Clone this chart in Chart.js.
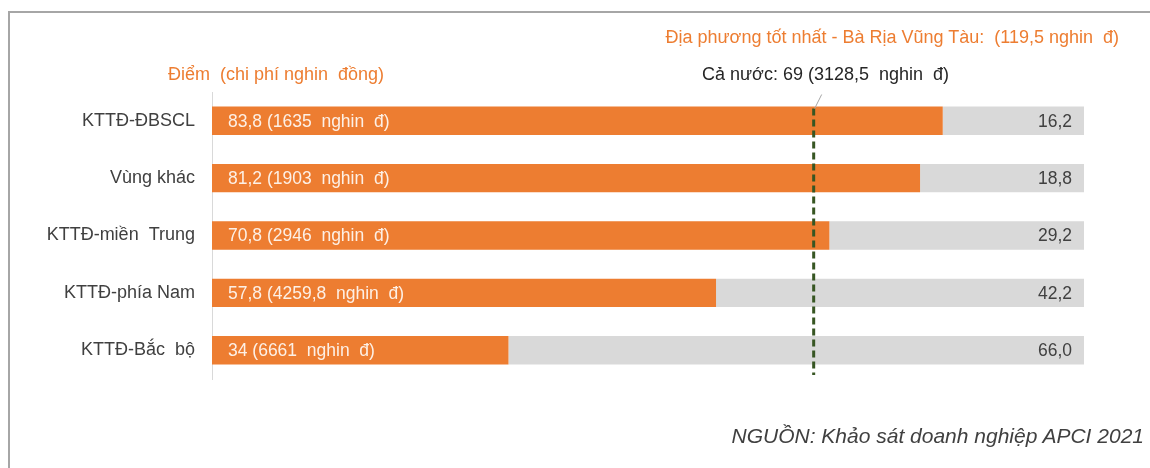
<!DOCTYPE html>
<html>
<head>
<meta charset="utf-8">
<script src="https://cdn.jsdelivr.net/npm/chart.js@4/dist/chart.umd.min.js"></script>
<style>
  html, body { margin: 0; padding: 0; background: #fff; }
  body { width: 1150px; height: 468px; position: relative; overflow: hidden; font-family: "Liberation Sans", Arial, sans-serif; }
  #frame { position: absolute; left: 8px; top: 11px; width: 1200px; height: 500px; border-left: 2px solid #a6a6a6; border-top: 2px solid #a6a6a6; }
  #wrap { position: absolute; left: 0; top: 0; width: 1150px; height: 468px; }
  .note { position: absolute; white-space: pre; font-size: 18px; }
  .orange { color: #ED7D31; }
</style>
</head>
<body>
<div id="frame"></div>
<div id="wrap"><canvas id="barChart"></canvas></div>
<div class="note orange" style="right:31px; top:27px;">Địa phương tốt nhất - Bà Rịa Vũng Tàu:  (119,5 nghin  đ)</div>
<div class="note orange" style="left:168px; top:64px;">Điểm  (chi phí nghin  đồng)</div>
<div class="note" style="left:702px; top:64px; color:#262626;">Cả nước: 69 (3128,5  nghin  đ)</div>
<div class="note" style="right:6px; top:424px; color:#404040; font-style:italic; font-size:21px;">NGUỒN: Khảo sát doanh nghiệp APCI 2021</div>
<script>
const regions = ["KTTĐ-ĐBSCL", "Vùng khác", "KTTĐ-miền  Trung", "KTTĐ-phía Nam", "KTTĐ-Bắc  bộ"];
const scores = [83.8, 81.2, 70.8, 57.8, 34];
const costs = ["1635", "1903", "2946", "4259,8", "6661"];
const gaps = [16.2, 18.8, 29.2, 42.2, 66.0];
const nationalScore = 69;

const ctx = document.getElementById("barChart").getContext('2d');

// labels inside the bars + national average line
const barLabels = {
  id: 'barLabels',
  afterDatasetsDraw(chart) {
    const c = chart.ctx;
    const x = chart.scales.x;
    const area = chart.chartArea;
    c.save();
    c.font = '17.5px "Liberation Sans", Arial, sans-serif';
    c.textBaseline = 'middle';
    chart.getDatasetMeta(0).data.forEach((bar, i) => {
      c.fillStyle = '#fdf0e6';
      c.textAlign = 'left';
      c.fillText(scores[i].toString().replace('.', ',') + ' (' + costs[i] + '  nghin  đ)', bar.base + 16, bar.y + 1);
    });
    chart.getDatasetMeta(1).data.forEach((bar, i) => {
      c.fillStyle = '#404040';
      c.textAlign = 'right';
      c.fillText(gaps[i].toFixed(1).replace('.', ','), bar.x - 12, bar.y + 1);
    });
    const first = chart.getDatasetMeta(0).data[0];
    const lx = x.getPixelForValue(nationalScore);
    const top = first.y - first.height / 2 + 2;
    c.strokeStyle = '#375623';
    c.lineWidth = 3;
    c.setLineDash([7, 4]);
    c.beginPath();
    c.moveTo(lx, top);
    c.lineTo(lx, area.bottom - 4);
    c.stroke();
    c.setLineDash([]);
    c.strokeStyle = '#a6a6a6';
    c.lineWidth = 1;
    c.beginPath();
    c.moveTo(lx + 1, top);
    c.lineTo(lx + 8, top - 14);
    c.stroke();
    c.restore();
  }
};

new Chart(ctx, {
  type: 'bar',
  data: {
    labels: regions,
    datasets: [
      { data: scores, backgroundColor: '#ED7D31', categoryPercentage: 1, barPercentage: 0.495 },
      { data: gaps, backgroundColor: '#D9D9D9', categoryPercentage: 1, barPercentage: 0.495 }
    ]
  },
  options: {
    indexAxis: 'y',
    responsive: true,
    maintainAspectRatio: false,
    animation: false,
    layout: { padding: { top: 92, bottom: 89, right: 66, left: 0 } },
    plugins: { legend: { display: false }, tooltip: { enabled: false } },
    scales: {
      x: { stacked: true, min: 0, max: 100, display: false },
      y: {
        stacked: true,
        afterFit(scale) { scale.width = 212; },
        grid: { display: false, drawTicks: false },
        border: { color: '#d9d9d9', width: 1 },
        ticks: { color: '#404040', padding: 17, font: { size: 18, family: '"Liberation Sans", Arial, sans-serif' } }
      }
    }
  },
  plugins: [barLabels]
});
</script>
</body>
</html>
